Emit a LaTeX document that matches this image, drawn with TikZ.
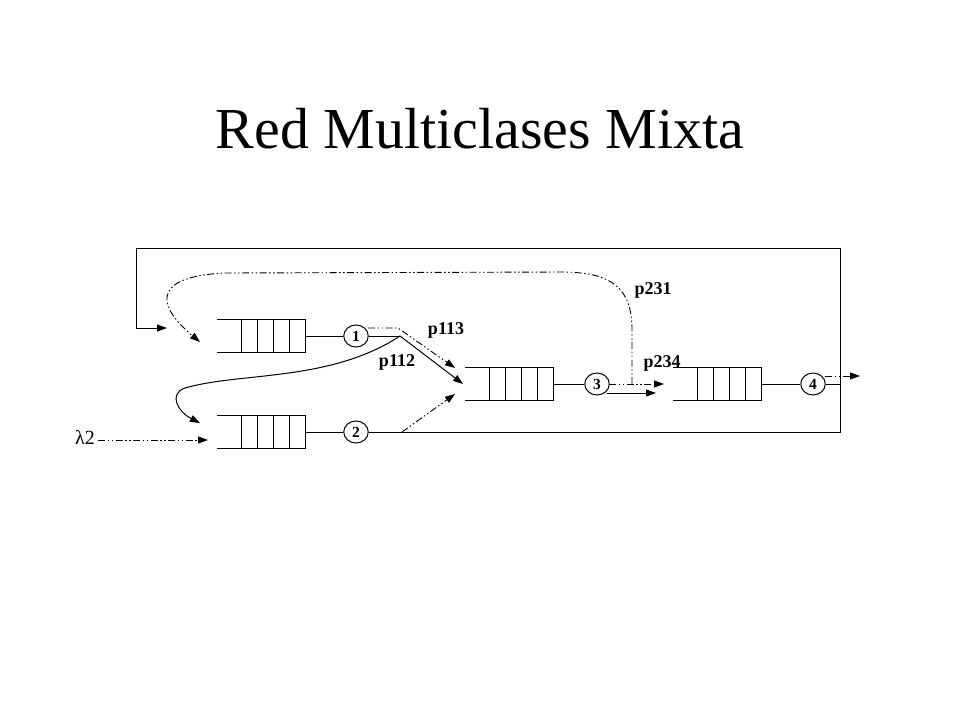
\documentclass[tikz,border=0pt]{standalone}
\usepackage{fontspec}
\setmainfont{Liberation Serif}
\usetikzlibrary{arrows.meta,shapes.geometric}
\tikzset{
  every picture/.style={x=1pt,y=-1pt},
  ln/.style={line width=1pt},
  dd/.style={line width=0.9pt,dash pattern=on 7pt off 2.5pt on 1.5pt off 2.5pt on 1.5pt off 2.5pt},
  tip/.style={-{Triangle[length=10pt,width=7pt]}},
  srv/.style={ellipse,draw,line width=1pt,minimum width=24.5pt,minimum height=22pt,inner sep=0pt,font=\bfseries\fontsize{15.5}{15.5}\selectfont},
  qnode/.style={rectangle,minimum width=88pt,minimum height=32pt,inner sep=0pt},
  lbl/.style={font=\bfseries\fontsize{18}{18}\selectfont,inner sep=0pt},
}
\newcommand\qbox[2]{%
  \node[qnode] (#1) at (#2) {};
  \draw[ln] (#1.north west) -- (#1.north east) -- (#1.south east) -- (#1.south west);
  \foreach \d in {16,32,48,64} \draw[ln] ([xshift=-\d pt]#1.north east) -- ([xshift=-\d pt]#1.south east);
}
\begin{document}
\begin{tikzpicture}
\useasboundingbox (0,0) rectangle (960,720);
\node[font=\fontsize{58}{58}\selectfont,anchor=base,inner sep=0pt] (title) at (480,148) {Red Multiclases Mixta};

% queues
\qbox{q1}{261,336}
\qbox{q2}{261,432}
\qbox{q3}{509,384}
\qbox{q4}{717,384}

% servers
\node[srv] (n1) at (356,336) {1};
\node[srv] (n2) at (356,432) {2};
\node[srv] (n3) at (597,384) {3};
\node[srv] (n4) at (813,384) {4};

% labels
\node[lbl] (l231) at (653,290) {p231};
\node[lbl] (l113) at (446,330) {p113};
\node[lbl] (l112) at (397,362) {p112};
\node[lbl] (l234) at (662,363) {p234};
\node[font=\fontsize{20}{20}\selectfont,inner sep=0pt] (lam) at (85,437) {λ2};

% coordinates
\coordinate (s1) at (400,336);
\coordinate (a13) at (463,384);
\coordinate (d1a) at (368,328);
\coordinate (d1b) at (398,328);
\coordinate (d1c) at (455,368);
\coordinate (a12) at (200,423);
\coordinate (br) at (840,432);
\coordinate (tr) at (840,248);
\coordinate (tl) at (136,248);
\coordinate (ml) at (136,328);
\coordinate (in1) at (167,328);
\coordinate (d2a) at (402,432);
\coordinate (d2b) at (455,394);
\coordinate (lamb) at (98,440);
\coordinate (in2) at (208,440);
\coordinate (o3a) at (607,393);
\coordinate (o3b) at (656,393);
\coordinate (o3c) at (609,384);
\coordinate (o3d) at (664,384);
\coordinate (sp) at (632,384);
\coordinate (in1d) at (200,342);
\coordinate (o4) at (840,384);
\coordinate (o4a) at (825,376);
\coordinate (o4b) at (860,376);

% solid connections
\draw[ln] (q1.east) -- (n1);
\draw[ln] (n1.east) -- (s1);
\draw[ln,tip] (s1) -- (a13);
\draw[ln,tip] (s1) .. controls (330,382) and (240,372) .. (185,388) .. controls (168,394) and (178,412) .. (a12);
\draw[ln] (q2.east) -- (n2);
\draw[ln,tip] (n2.east) -- (br) -- (tr) -- (tl) -- (ml) -- (in1);
\draw[ln] (q3.east) -- (n3);
\draw[ln,tip] (o3a) -- (o3b);
\draw[ln] (q4.east) -- (n4);
\draw[ln] (n4.east) -- (o4);

% dash-dot connections
\draw[dd,tip] (d1a) -- (d1b) -- (d1c);
\draw[dd,tip] (d2a) -- (d2b);
\draw[dd,tip] (lamb) -- (in2);
\draw[dd,tip] (o3c) -- (o3d);
\draw[dd,tip] (sp) -- (632,330) .. controls (632,288) and (612,273) .. (565,272) -- (225,273) .. controls (160,276) and (150,300) .. (in1d);
\draw[dd,tip] (o4a) -- (o4b);
\end{tikzpicture}
\end{document}
